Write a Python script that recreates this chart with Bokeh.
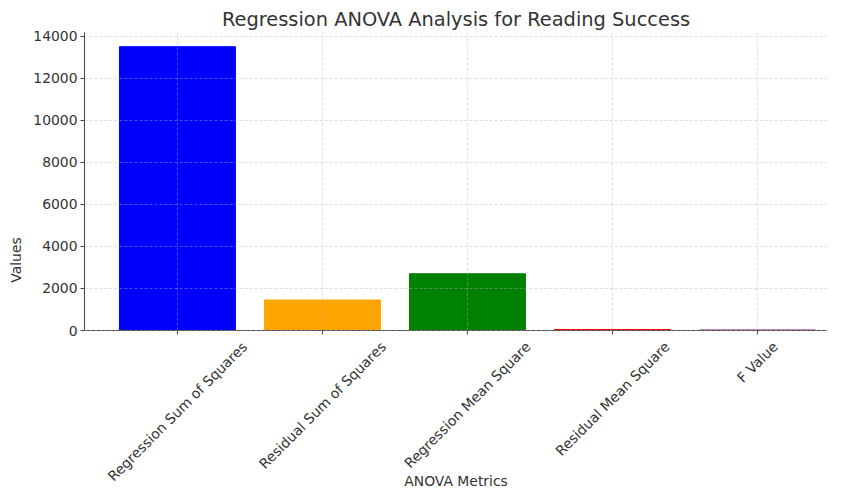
import math
from bokeh.plotting import figure
from bokeh.models import ColumnDataSource, FixedTicker, Range1d, Span
from bokeh.core.properties import value
from bokeh.embed import file_html
from bokeh.resources import INLINE

metrics = ["Regression Sum of Squares", "Residual Sum of Squares",
           "Regression Mean Square", "Residual Mean Square", "F Value"]
values = [13500, 1450, 2700, 48, 22]
colors = ["blue", "orange", "green", "red", "purple"]
y_ticks = [0, 2000, 4000, 6000, 8000, 10000, 12000, 14000]
x_label = "ANOVA Metrics"
y_label = "Values"

FONT = "DejaVu Sans"
TICK_FS = 13.9
TXT = "#333333"
AX = "#444444"
YTOP = 14175

# layout (pixels)
LEFT, TOP = 84, 32
FRAME_W, FRAME_H = 743, 455
DATA_H = 298                      # pixel height of 0..YTOP
PX_PER_CAT = 145
XLABEL_PX = 150                   # centre of x-axis title below the zero line
units_per_px = YTOP / DATA_H
ymin = -(FRAME_H - DATA_H) * units_per_px
x0 = -0.641
x1 = x0 + FRAME_W / PX_PER_CAT

xs = list(range(len(metrics)))
src = ColumnDataSource(dict(x=xs, top=values, color=colors))

p = figure(frame_width=FRAME_W, frame_height=FRAME_H, output_backend="svg",
           toolbar_location=None, x_axis_location=None,
           x_range=Range1d(x0, x1), y_range=Range1d(ymin, YTOP),
           min_border_left=LEFT, min_border_right=0, min_border_top=TOP,
           min_border_bottom=0,
           title="Regression ANOVA Analysis for Reading Success")
p.xgrid.visible = False

grid_kw = dict(line_color="#b0b0b0", line_dash="3 2", line_alpha=0.55, line_width=0.8)
p.vbar(x="x", top="top", width=0.8, bottom=0, color="color", source=src)
p.segment(x0=xs, y0=[0] * len(xs), x1=xs, y1=[YTOP] * len(xs), **grid_kw)
g = p.ygrid[0]
g.grid_line_color = "#b0b0b0"
g.grid_line_dash = "3 2"
g.grid_line_alpha = 0.55
g.grid_line_width = 0.8
g.level = "overlay"

# bottom spine and ticks at y = 0
p.add_layout(Span(location=0, dimension="width", line_color=AX, line_width=1))
tick_len = 4 * units_per_px
p.segment(x0=xs, y0=[0] * len(xs), x1=xs, y1=[-tick_len] * len(xs),
          line_color=AX, line_width=1)

# category labels, rotated 45 degrees and centred under their ticks
Wd = {"R": .695, "e": .615, "g": .635, "r": .411, "s": .521, "i": .278,
      "o": .612, "n": .634, " ": .318, "S": .635, "u": .634, "m": .974,
      "f": .352, "q": .635, "a": .613, "d": .635, "l": .278, "M": .863,
      "F": .575, "V": .684}
offs = []
for m in metrics:
    L = sum(Wd.get(c, .6) for c in m) * TICK_FS
    box = (L + TICK_FS * 1.17) / math.sqrt(2)
    offs.append(4 + 3.5 + box / 2)
lab_src = ColumnDataSource(dict(x=xs, y=[0] * len(xs), text=metrics, yo=offs))
p.text(x="x", y="y", text="text", y_offset="yo", angle=math.pi / 4,
       text_align="center", text_baseline="middle", text_font=value(FONT),
       source=lab_src, text_font_size=value(f"{TICK_FS}px"), text_color=TXT)

# x-axis title
p.text(x=[(x0 + x1) / 2], y=[0], text=[x_label], y_offset=XLABEL_PX,
       text_align="center", text_baseline="middle", text_font=value(FONT),
       text_font_size=value(f"{TICK_FS}px"), text_color=TXT)

p.title.align = "center"
p.title.text_font = FONT
p.title.text_font_size = "19.4px"
p.title.text_font_style = "normal"
p.title.text_color = TXT
p.title.standoff = 4

p.outline_line_color = None

ya = p.yaxis[0]
ya.ticker = FixedTicker(ticks=y_ticks)
ya.bounds = (0, YTOP)
ya.axis_line_color = AX
ya.major_tick_line_color = AX
ya.major_tick_out = 4
ya.major_tick_in = 0
ya.minor_tick_line_color = None
ya.major_label_text_font = FONT
ya.major_label_text_font_size = f"{TICK_FS}px"
ya.major_label_text_color = TXT
ya.major_label_standoff = 3
ya.axis_label = y_label
ya.axis_label_standoff = 6
ya.axis_label_text_font = FONT
ya.axis_label_text_font_size = f"{TICK_FS}px"
ya.axis_label_text_font_style = "normal"
ya.axis_label_text_color = TXT

open("out.html", "w").write(file_html(p, INLINE))
